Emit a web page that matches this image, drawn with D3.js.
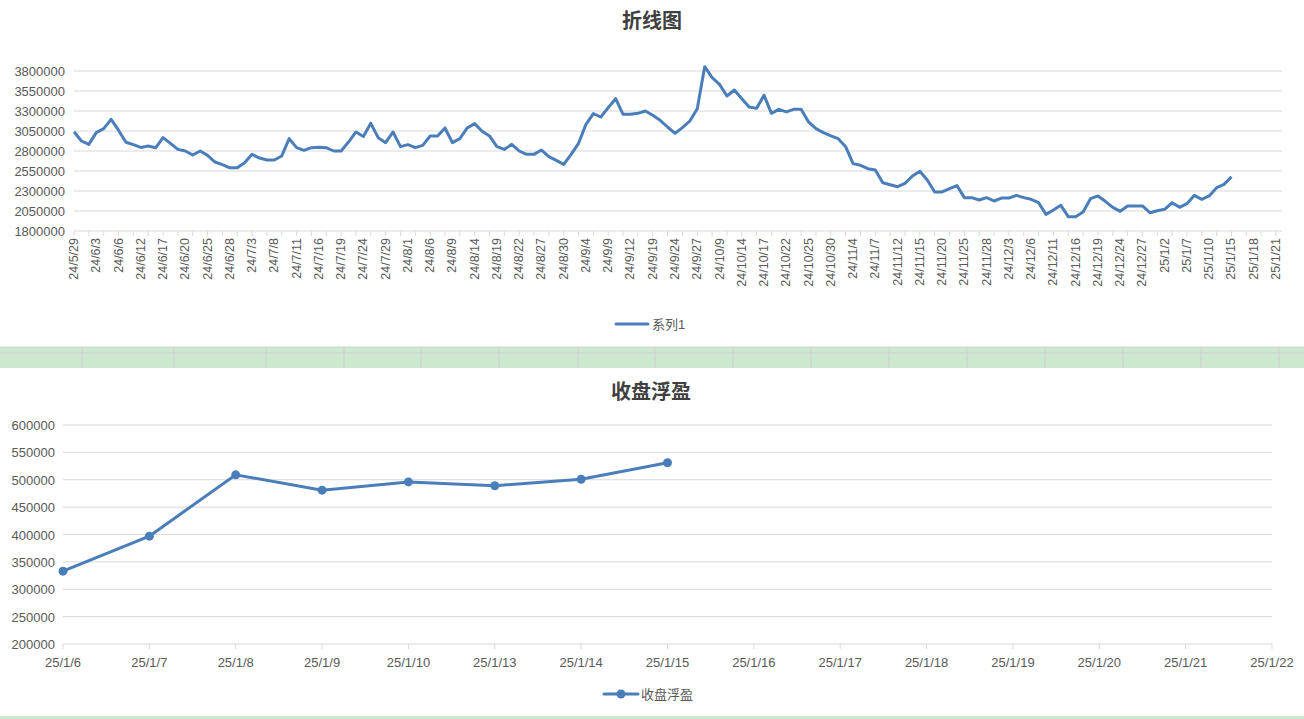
<!DOCTYPE html>
<html lang="en">
<head>
<meta charset="UTF-8">
<title>折线图</title>
<script src="https://d3js.org/d3.v7.min.js"></script>
<style>
    body { margin: 0; background: #fff; font-family: 'Liberation Sans', 'Noto Sans CJK SC', sans-serif; }
    svg text { fill: #595959; }
</style>
</head>
<body>
<svg id="chart" width="1304" height="719"></svg>
<script>
    // top chart: shown date labels (one every 3 categories)
    const topLabels = ["24/5/29","24/6/3","24/6/6","24/6/12","24/6/17","24/6/20","24/6/25","24/6/28","24/7/3","24/7/8",
        "24/7/11","24/7/16","24/7/19","24/7/24","24/7/29","24/8/1","24/8/6","24/8/9","24/8/14","24/8/19",
        "24/8/22","24/8/27","24/8/30","24/9/4","24/9/9","24/9/12","24/9/19","24/9/24","24/9/27","24/10/9",
        "24/10/14","24/10/17","24/10/22","24/10/25","24/10/30","24/11/4","24/11/7","24/11/12","24/11/15","24/11/20",
        "24/11/25","24/11/28","24/12/3","24/12/6","24/12/11","24/12/16","24/12/19","24/12/24","24/12/27","25/1/2",
        "25/1/7","25/1/10","25/1/15","25/1/18","25/1/21"];
    const topValues = [
        3040000,2925000,2883000,3030000,3080000,3195000,3060000,2910000,2880000,2845000,
        2862000,2840000,2967000,2896000,2820000,2800000,2750000,2800000,2745000,2662000,
        2630000,2590000,2590000,2654000,2758000,2712000,2688000,2688000,2738000,2954000,
        2842000,2808000,2842000,2846000,2842000,2800000,2800000,2912000,3038000,2980000,
        3146000,2967000,2904000,3038000,2854000,2880000,2842000,2870000,2988000,2988000,
        3088000,2904000,2954000,3088000,3142000,3046000,2988000,2854000,2820000,2883000,
        2800000,2758000,2758000,2812000,2729000,2683000,2633000,2758000,2896000,3133000,
        3267000,3225000,3342000,3454000,3258000,3258000,3271000,3300000,3246000,3183000,
        3100000,3021000,3092000,3175000,3329000,3854000,3717000,3633000,3488000,3563000,
        3454000,3350000,3333000,3496000,3271000,3321000,3288000,3321000,3321000,3163000,
        3079000,3029000,2988000,2954000,2854000,2642000,2621000,2579000,2563000,2404000,
        2379000,2354000,2396000,2488000,2546000,2438000,2288000,2288000,2329000,2367000,
        2217000,2217000,2187000,2217000,2175000,2212000,2212000,2246000,2217000,2196000,
        2154000,2008000,2063000,2121000,1979000,1979000,2038000,2204000,2238000,2171000,
        2096000,2046000,2113000,2113000,2113000,2029000,2054000,2071000,2154000,2096000,
        2142000,2246000,2196000,2238000,2342000,2383000,2479000];
    const topTicks = [1800000,2050000,2300000,2550000,2800000,3050000,3300000,3550000,3800000];

    // bottom chart
    const botDates = ["25/1/6","25/1/7","25/1/8","25/1/9","25/1/10","25/1/13","25/1/14","25/1/15",
        "25/1/16","25/1/17","25/1/18","25/1/19","25/1/20","25/1/21","25/1/22"];
    const botValues = [333000,397000,509000,481000,496000,489000,501000,531000];
    const botTicks = [200000,250000,300000,350000,400000,450000,500000,550000,600000];

    const svg = d3.select("#chart");
    const blue = "#4a7ebb", grid = "#d9d9d9";

    // ---------- top chart ----------
    const nCat = topLabels.length * 3 - 2;
    const x1 = d3.scaleLinear().domain([0, nCat - 1]).range([74, 1276]);
    const y1 = d3.scaleLinear().domain([1800000, 3800000]).range([231, 71]);

    svg.append("text").attr("x", 652).attr("y", 28).attr("text-anchor", "middle")
        .style("font-size", "20px").style("font-weight", "bold").style("fill", "#404040").text("折线图");

    const g1 = svg.append("g");
    g1.selectAll(".grid1").data(topTicks).enter().append("line")
        .attr("x1", 74).attr("x2", 1282).attr("y1", d => y1(d)).attr("y2", d => y1(d))
        .attr("stroke", grid);
    g1.selectAll(".yl1").data(topTicks).enter().append("text")
        .attr("x", 65).attr("y", d => y1(d) + 5).attr("text-anchor", "end")
        .style("font-size", "13px").text(d => d);
    g1.selectAll(".tk1").data(d3.range(0, nCat + 1, 2)).enter().append("line")
        .attr("x1", d => x1(d)).attr("x2", d => x1(d)).attr("y1", 231).attr("y2", 236)
        .attr("stroke", grid);
    g1.selectAll(".xl1").data(topLabels).enter().append("text")
        .attr("transform", (d, i) => `translate(${x1(i * 3) + 4},238) rotate(-90)`)
        .attr("text-anchor", "end").style("font-size", "12.5px").text(d => d);

    g1.append("path").datum(topValues)
        .attr("fill", "none").attr("stroke", blue).attr("stroke-width", 3).attr("stroke-linejoin", "round")
        .attr("d", d3.line().x((d, i) => x1(i)).y(d => y1(d)));

    svg.append("line").attr("x1", 616).attr("x2", 648).attr("y1", 324).attr("y2", 324)
        .attr("stroke", blue).attr("stroke-width", 3).attr("stroke-linecap", "round");
    svg.append("text").attr("x", 652).attr("y", 329).style("font-size", "13px").text("系列1");

    // ---------- spreadsheet band ----------
    const cols = [0, 82, 174, 266, 344, 421, 499, 578, 655, 733, 811, 889, 967, 1045, 1123, 1201, 1279];
    svg.append("rect").attr("x", 0).attr("y", 347).attr("width", 1304).attr("height", 21).attr("fill", "#cce8cf");
    svg.append("line").attr("x1", 0).attr("x2", 1304).attr("y1", 347).attr("y2", 347).attr("stroke", "#d0d0d0");
    svg.append("line").attr("x1", 0).attr("x2", 1304).attr("y1", 353).attr("y2", 353).attr("stroke", "#d0d0d0");
    svg.selectAll(".col").data(cols.slice(1)).enter().append("line")
        .attr("x1", d => d).attr("x2", d => d).attr("y1", 347).attr("y2", 368).attr("stroke", "#d0d0d0");
    svg.append("rect").attr("x", 0).attr("y", 716).attr("width", 1304).attr("height", 3).attr("fill", "#cce8cf");

    // ---------- bottom chart ----------
    const x2 = d3.scalePoint().domain(botDates).range([63, 1272]);
    const y2 = d3.scaleLinear().domain([200000, 600000]).range([644, 425]);

    svg.append("text").attr("x", 651).attr("y", 399).attr("text-anchor", "middle")
        .style("font-size", "20px").style("font-weight", "bold").style("fill", "#404040").text("收盘浮盈");

    const g2 = svg.append("g");
    g2.selectAll(".grid2").data(botTicks).enter().append("line")
        .attr("x1", 63).attr("x2", 1272).attr("y1", d => y2(d)).attr("y2", d => y2(d))
        .attr("stroke", grid);
    g2.selectAll(".yl2").data(botTicks).enter().append("text")
        .attr("x", 55).attr("y", d => y2(d) + 5).attr("text-anchor", "end")
        .style("font-size", "13px").text(d => d);
    g2.selectAll(".tk2").data(botDates).enter().append("line")
        .attr("x1", d => x2(d)).attr("x2", d => x2(d)).attr("y1", 644).attr("y2", 649)
        .attr("stroke", grid);
    g2.selectAll(".xl2").data(botDates).enter().append("text")
        .attr("x", d => x2(d)).attr("y", 667).attr("text-anchor", "middle")
        .style("font-size", "13px").text(d => d);

    g2.append("path").datum(botValues)
        .attr("fill", "none").attr("stroke", blue).attr("stroke-width", 3)
        .attr("d", d3.line().x((d, i) => x2(botDates[i])).y(d => y2(d)));
    g2.selectAll(".pt").data(botValues).enter().append("circle")
        .attr("cx", (d, i) => x2(botDates[i])).attr("cy", d => y2(d)).attr("r", 4.5).attr("fill", blue);

    svg.append("line").attr("x1", 604).attr("x2", 638).attr("y1", 694).attr("y2", 694)
        .attr("stroke", blue).attr("stroke-width", 3).attr("stroke-linecap", "round");
    svg.append("circle").attr("cx", 621).attr("cy", 694).attr("r", 4.5).attr("fill", blue);
    svg.append("text").attr("x", 641).attr("y", 699).style("font-size", "13px").text("收盘浮盈");
</script>
</body>
</html>
